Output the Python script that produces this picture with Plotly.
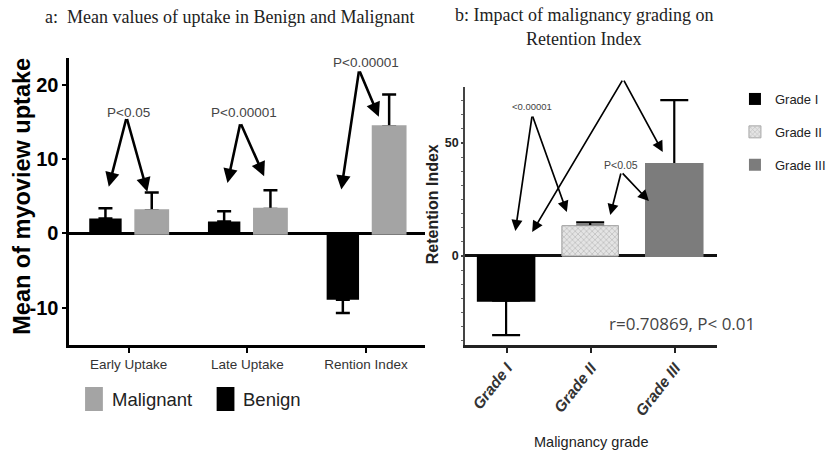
import plotly.graph_objects as go

W, H = 831, 456

# ---------------- data ----------------
uptake_categories = ["Early Uptake", "Late Uptake", "Rention Index"]
benign_means = [2.0, 1.6, -8.9]
benign_errors = [1.4, 1.4, 1.8]
malignant_means = [3.1, 3.3, 14.4]
malignant_errors = [2.4, 2.5, 4.3]
panel_a_yticks = [-10, 0, 10, 20]
series_names = ["Malignant", "Benign"]

grade_categories = ["Grade I", "Grade II", "Grade III"]
grade_means = [-19.8, 13.4, 40.7]
grade_errors = [15.2, 1.5, 28.3]
panel_b_yticks = [0, 50]
correlation_text = "r=0.70869, P< 0.01"

# significance labels (text, text pos, apex, two arrow targets) in data units
sig_a = [
    ("P<0.05", (0.0, 16.3), (-0.017, 15.6), [(-0.167, 6.3), (0.158, 5.6)]),
    ("P<0.00001", (0.975, 16.3), (0.942, 14.9), [(0.833, 6.8), (1.142, 7.7)]),
    ("P<0.00001", (2.0, 23.0), (1.942, 22.0), [(1.792, 5.9), (2.108, 15.7)]),
]
sig_b = [
    ("<0.00001", (0.30, 66.3), (0.30, 62.4), [(0.10, 11.1), (0.712, 19.5)]),
    ("<0.00001", (1.382, 81.6), (1.382, 78.3), [(0.30, 10.6), (1.853, 46.0)]),
    ("P<0.05", (1.359, 40.3), (1.359, 37.2), [(1.229, 18.1), (1.688, 24.3)]),
]

# ---------------- styles ----------------
SANS = "Liberation Sans, Arial, sans-serif"
SERIF = "Liberation Serif, Times New Roman, serif"
BLACK = "#000000"
MAL_GRAY = "#a4a4a4"
G3_GRAY = "#7c7c7c"


def px(x):
    return x / W


def py(y):
    return 1 - y / H


def up(vals, errs):
    return [e if v >= 0 else 0 for v, e in zip(vals, errs)]


def down(vals, errs):
    return [e if v < 0 else 0 for v, e in zip(vals, errs)]


fig = go.Figure()

# ---- panel a bars ----
fig.add_trace(go.Bar(
    x=uptake_categories, y=benign_means, name=series_names[1],
    marker=dict(color=BLACK, line=dict(width=0)), offsetgroup="ben",
    error_y=dict(type="data", symmetric=False, array=up(benign_means, benign_errors),
                 arrayminus=down(benign_means, benign_errors),
                 color=BLACK, thickness=2.5, width=7),
    xaxis="x", yaxis="y", showlegend=False))
fig.add_trace(go.Bar(
    x=uptake_categories, y=malignant_means, name=series_names[0],
    marker=dict(color=MAL_GRAY, line=dict(width=0)), offsetgroup="mal",
    error_y=dict(type="data", symmetric=False, array=up(malignant_means, malignant_errors),
                 arrayminus=down(malignant_means, malignant_errors),
                 color=BLACK, thickness=2.5, width=7),
    xaxis="x", yaxis="y", showlegend=False))
# cover copy hides the error-bar foot sitting on the bar top
fig.add_trace(go.Bar(
    x=uptake_categories, y=malignant_means, name=series_names[0],
    marker=dict(color=MAL_GRAY, line=dict(width=2.4, color=MAL_GRAY)), offsetgroup="mal",
    xaxis="x", yaxis="y", showlegend=False, hoverinfo="skip"))

# ---- panel b bars ----
grade_markers = [
    dict(color=BLACK, line=dict(width=0)),
    dict(color="#d6d6d6", line=dict(width=1, color="#a8a8a8"),
         pattern=dict(shape="x", fgcolor="#9a9a9a", bgcolor="#e4e4e4", size=4, solidity=0.35)),
    dict(color=G3_GRAY, line=dict(width=0)),
]
for i, g in enumerate(grade_categories):
    fig.add_trace(go.Bar(
        x=[g], y=[grade_means[i]], name=g, marker=grade_markers[i],
        offsetgroup="grade", width=0.67, offset=-0.345,
        error_y=dict(type="data", symmetric=False,
                     array=up([grade_means[i]], [grade_errors[i]]),
                     arrayminus=down([grade_means[i]], [grade_errors[i]]),
                     color=BLACK, thickness=2.2, width=14),
        xaxis="x2", yaxis="y2", legend="legend2", legendgroup=g))
for i, g in enumerate(grade_categories):
    m = dict(grade_markers[i])
    if i != 1:
        m = dict(color=m["color"], line=dict(width=2.2, color=m["color"]))
    fig.add_trace(go.Bar(
        x=[g], y=[grade_means[i]], name=g, marker=m,
        offsetgroup="grade", width=0.67, offset=-0.345,
        xaxis="x2", yaxis="y2", showlegend=False, hoverinfo="skip"))

annotations = []
# significance arrows
for sig, xr, yr, aw, asz, fs in [(sig_a, "x", "y", 2.6, 1.1, 13.5),
                                 (sig_b, "x2", "y2", 1.7, 1.3, 9.5)]:
    for text, (tx, ty), (axp, ayp), targets in sig:
        fsz = fs if not (xr == "x2" and text.startswith("P")) else 10.5
        annotations.append(dict(x=tx, y=ty, xref=xr, yref=yr, text=text, showarrow=False,
                                xanchor="center", yanchor="middle",
                                font=dict(family=SANS, size=fsz, color="#444444")))
        for (tx2, ty2) in targets:
            annotations.append(dict(x=tx2, y=ty2, xref=xr, yref=yr, ax=axp, ay=ayp,
                                    axref=xr, ayref=yr, text="", showarrow=True,
                                    arrowhead=2, arrowsize=asz, arrowwidth=aw,
                                    arrowcolor=BLACK, standoff=0, startstandoff=0,
                                    font=dict(size=1)))


def paper_text(x, y, text, font, angle=0, xanchor="center"):
    return dict(x=px(x), y=py(y), xref="paper", yref="paper", text=text,
                showarrow=False, xanchor=xanchor, yanchor="middle",
                textangle=angle, font=font)


annotations += [
    paper_text(232, 17, "a:&nbsp; Mean values of uptake in Benign and Malignant",
               dict(family=SERIF, size=18, color="#222222")),
    paper_text(590, 15, "b: Impact of malignancy grading on",
               dict(family=SERIF, size=18, color="#222222")),
    paper_text(590, 39, "Retention Index",
               dict(family=SERIF, size=18, color="#222222")),
    paper_text(22, 196, "<b>Mean of myoview uptake</b>",
               dict(family=SANS, size=23.5, color=BLACK), angle=-90),
    paper_text(437, 204, "<b>Retention Index</b>",
               dict(family=SANS, size=16, color="#222222"), angle=-90),
    paper_text(597, 442, "Malignancy grade",
               dict(family=SANS, size=14.5, color="#222222")),
    paper_text(614, 323, correlation_text,
               dict(family="Open Sans, DejaVu Sans, sans-serif", size=17, color="#444444"),
               xanchor="left"),
]

# manual legend for panel a (Malignant, Benign)
shapes = []
leg_colors = {"Malignant": MAL_GRAY, "Benign": BLACK}
leg_x = [86, 219]
for name, x0 in zip(series_names, leg_x):
    shapes.append(dict(type="rect", xref="paper", yref="paper",
                       x0=px(x0), x1=px(x0 + 18), y0=py(411), y1=py(387),
                       fillcolor=leg_colors[name], line=dict(width=0)))
    annotations.append(paper_text(x0 + 25, 399, name,
                                  dict(family=SANS, size=18.5, color="#222222"),
                                  xanchor="left"))

fig.update_layout(
    width=W, height=H, margin=dict(l=0, r=0, t=0, b=0), autosize=False,
    paper_bgcolor="white", plot_bgcolor="white",
    barmode="group", bargap=0.22, bargroupgap=0.3,
    annotations=annotations, shapes=shapes,
    xaxis=dict(domain=[px(70), px(430)], range=[-0.5, 2.5], type="category",
               showline=True, linecolor=BLACK, linewidth=2.5,
               ticks="outside", ticklen=5, tickwidth=2, tickcolor=BLACK,
               tickfont=dict(family=SANS, size=13.5, color="#333333"),
               showgrid=False, zeroline=False, anchor="y", fixedrange=True),
    yaxis=dict(domain=[py(345), py(58)], range=[-15, 23.6],
               tickvals=panel_a_yticks, ticktext=[str(v) for v in panel_a_yticks],
               showline=True, linecolor=BLACK, linewidth=2.5,
               ticks="outside", ticklen=4, tickwidth=2, tickcolor=BLACK,
               tickfont=dict(family=SANS, size=20, color=BLACK, weight="bold"),
               showgrid=False, zeroline=True, zerolinecolor=BLACK, zerolinewidth=2.5,
               anchor="x"),
    xaxis2=dict(domain=[px(470), px(725)], range=[-0.5, 2.5], type="category",
                showline=True, linecolor="#222222", linewidth=2.5,
                ticks="outside", ticklen=5, tickwidth=2, tickcolor="#222222",
                tickangle=-52,
                tickfont=dict(family=SANS, size=15.5, color="#333333", weight="bold", style="italic"),
                showgrid=False, zeroline=False, anchor="y2"),
    yaxis2=dict(domain=[py(345), py(87)], range=[-39.4, 74.8],
                tickvals=panel_b_yticks, ticktext=[str(v) for v in panel_b_yticks],
                showline=True, linecolor="#444444", linewidth=1.5,
                ticks="outside", ticklen=2, tickwidth=1.5, tickcolor="#444444",
                minor=dict(ticks="outside", ticklen=2, dtick=6.25, tickcolor="#666666", tickwidth=1),
                tickfont=dict(family=SANS, size=12.5, color="#222222", weight="bold"),
                showgrid=False, zeroline=True, zerolinecolor="#111111", zerolinewidth=2.5,
                anchor="x2"),
    legend2=dict(x=px(743), y=py(84), xanchor="left", yanchor="top",
                 font=dict(family=SANS, size=13, color="#222222"),
                 tracegroupgap=13, bgcolor="rgba(0,0,0,0)"),
)

post = ("document.body.style.margin='0';document.body.style.overflow='hidden';"
        "var gd=document.getElementById('{plot_id}');"
        "Plotly.relayout(gd,{width:831,height:456});")
fig.write_html("out.html", post_script=post,
               config={"responsive": False, "displayModeBar": False})
